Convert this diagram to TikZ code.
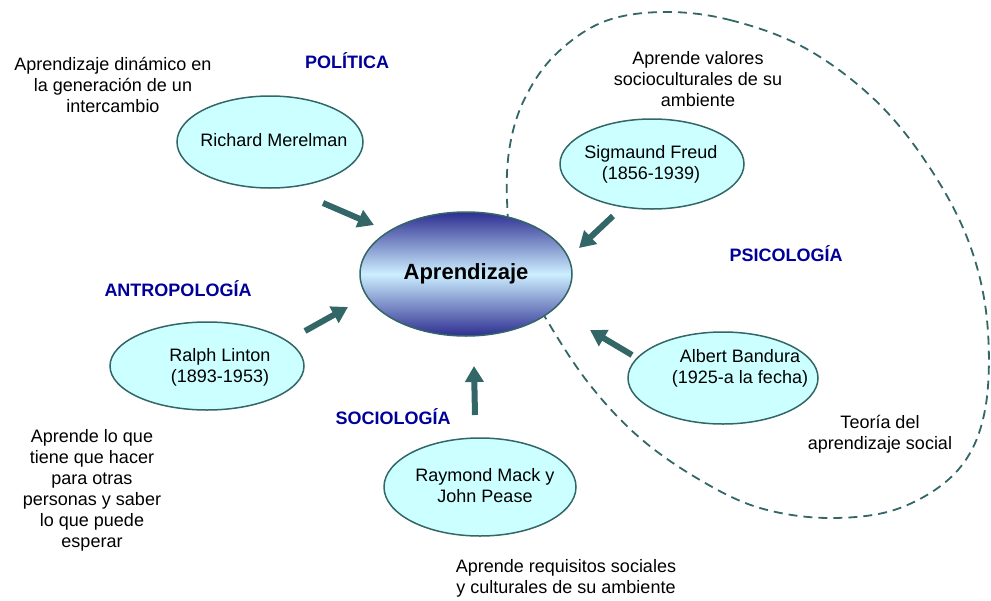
\documentclass[tikz,border=0pt]{standalone}
\usepackage{fontspec}
\setmainfont{Liberation Sans}
\usetikzlibrary{shapes.geometric,arrows.meta}
\definecolor{tealline}{RGB}{51,102,102}
\definecolor{cyanfill}{RGB}{204,255,255}
\definecolor{navylabel}{RGB}{0,0,153}
\definecolor{gdark}{RGB}{46,46,145}
\definecolor{glight}{RGB}{204,238,255}

\begin{document}
\begin{tikzpicture}[x=1pt,y=-1pt,
  person/.style={ellipse, draw=tealline, line width=1.5pt, fill=cyanfill, inner sep=0pt},
  txt/.style={font=\fontsize{18}{21}\selectfont, align=center, inner sep=0pt},
  field/.style={font=\fontsize{18}{21}\selectfont\bfseries, text=navylabel, inner sep=0pt},
  bigarrow/.style={draw=tealline, line width=6pt, -{Triangle[width=18pt,length=16pt]}},
  ]
\useasboundingbox (0,0) rectangle (991,600);

% dashed boundary of the psychology group
\draw[tealline, line width=1.8pt, dash pattern=on 9pt off 6pt]
  plot[smooth cycle, tension=0.6] coordinates {
    (663,12) (730,20) (805,48) (875,100) (928,165) (968,240) (987,320)
    (985,410) (958,470) (900,508) (830,518) (760,508) (700,480) (640,438)
    (590,385) (548,322) (515,260) (507,200) (510,145) (525,98) (555,55) (603,22)};

% central concept
\node[ellipse, draw=tealline, line width=1.5pt, minimum width=212pt, minimum height=124pt,
      top color=gdark, bottom color=gdark, middle color=glight, inner sep=0pt,
      font=\fontsize{22}{26}\selectfont\bfseries] (apr) at (466,274) {Aprendizaje};

% authors
\node[person, minimum width=186pt, minimum height=92pt] (rm) at (270,142) {};
\node[txt] (rmt) at (274,140) {Richard Merelman};

\node[person, minimum width=184pt, minimum height=90pt] (sf) at (652,164) {};
\node[txt] (sft) at (651,164) {Sigmaund Freud\\(1856-1939)};

\node[person, minimum width=194pt, minimum height=88pt] (rl) at (207,366) {};
\node[txt] (rlt) at (220,367) {Ralph Linton\\(1893-1953)};

\node[person, minimum width=190pt, minimum height=92pt] (ab) at (723,378) {};
\node[txt] (abt) at (740,368) {Albert Bandura\\(1925-a la fecha)};

\node[person, minimum width=192pt, minimum height=98pt] (rmp) at (480,487) {};
\node[txt] (rmpt) at (485,486) {Raymond Mack y\\John Pease};

% arrows towards the centre
\coordinate (a1s) at (323,203); \coordinate (a1e) at (374,225);
\coordinate (a2s) at (613,216); \coordinate (a2e) at (579,248);
\coordinate (a3s) at (632,355); \coordinate (a3e) at (590,330);
\coordinate (a4s) at (475,415); \coordinate (a4e) at (474,366);
\coordinate (a5s) at (305,331); \coordinate (a5e) at (348,307);
\draw[bigarrow] (a1s) -- (a1e);
\draw[bigarrow] (a2s) -- (a2e);
\draw[bigarrow] (a3s) -- (a3e);
\draw[bigarrow] (a4s) -- (a4e);
\draw[bigarrow] (a5s) -- (a5e);

% field labels
\node[field] (fpol) at (347,61) {POLÍTICA};
\node[field] (fant) at (178,289) {ANTROPOLOGÍA};
\node[field] (fsoc) at (393,417) {SOCIOLOGÍA};
\node[field] (fpsi) at (786,254) {PSICOLOGÍA};

% descriptions
\node[txt] (tpol) at (113,85) {Aprendizaje dinámico en\\la generación de un\\intercambio};
\node[txt] (tpsi) at (698,79) {Aprende valores\\socioculturales de su\\ambiente};
\node[txt] (tban) at (880,434) {Teoría del\\aprendizaje social};
\node[txt] (tant) at (92,490) {Aprende lo que\\tiene que hacer\\para otras\\personas y saber\\lo que puede\\esperar};
\node[txt] (tsoc) at (566,578) {Aprende requisitos sociales\\y culturales de su ambiente};
\end{tikzpicture}
\end{document}
